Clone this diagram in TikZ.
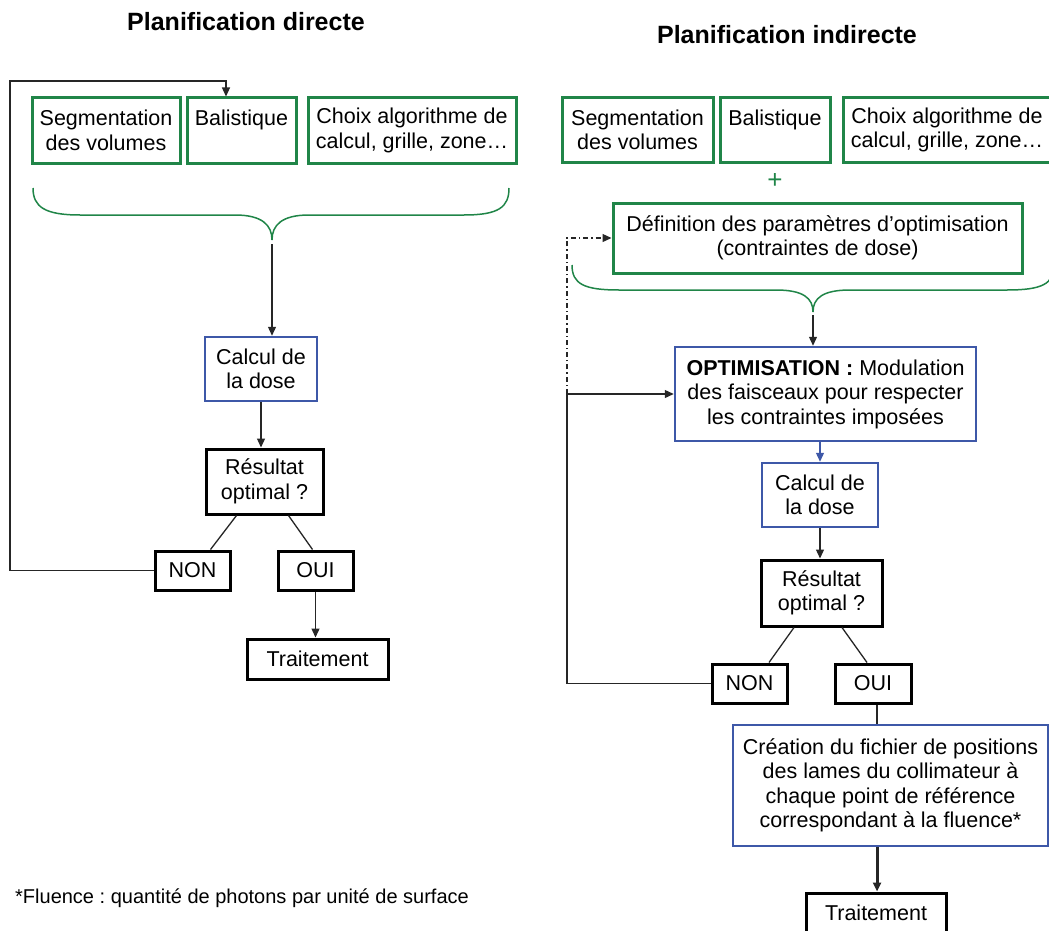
\documentclass[tikz,border=0pt]{standalone}
\usepackage{fontspec}
\setmainfont{Liberation Sans}
\usetikzlibrary{arrows.meta}
\definecolor{boxgreen}{RGB}{32,133,72}
\definecolor{boxblue}{RGB}{62,88,168}
\frenchspacing
\begin{document}
\begin{tikzpicture}[x=1pt,y=1pt,
	every node/.style={font=\fontsize{21.5}{24.5}\selectfont, align=center, inner sep=0pt},
	greenbox/.style={draw=boxgreen, line width=3pt, minimum height=65pt},
	bluebox/.style={draw=boxblue, line width=2.5pt},
	blackbox/.style={draw=black, line width=3pt},
	link/.style={draw=black!85, line width=1.3pt},
	arr/.style={link, -{Triangle[length=9pt,width=8pt]}},
	brace/.style={draw=boxgreen, line width=1.5pt},
	title/.style={font=\fontsize{25}{28}\selectfont\bfseries}]
	
	\useasboundingbox (0,0) rectangle (1049,-931);
	\clip (0,0) rectangle (1049,-931);
	
	% planification directe
	\node[title] (t1) at (246,-22) {Planification directe};
	\node[greenbox, minimum width=148pt] (seg1) at (106,-130.5) {Segmentation\\des volumes};
	\node[greenbox, minimum width=109pt] (bal1) at (241.5,-130.5) {Balistique\\\phantom{d}};
	\node[greenbox, minimum width=208pt] (cho1) at (412,-130.5) {Choix algorithme de\\calcul, grille, zone\ldots};
	\draw[brace] (33,-188) .. controls (33,-207) and (45,-215) .. (80,-215) -- (235,-215)
		.. controls (262,-215) and (272,-225) .. (272,-240)
		.. controls (272,-225) and (282,-215) .. (309,-215) -- (464,-215)
		.. controls (499,-215) and (509,-207) .. (509,-188);
	\coordinate (tip1) at (272,-244);
	\node[bluebox, minimum width=112pt, minimum height=64pt] (calc1) at (261,-369) {Calcul de\\la dose};
	\node[blackbox, minimum width=117pt, minimum height=65pt] (res1) at (264.5,-481.5) {Résultat\\optimal ?};
	\node[blackbox, minimum width=75pt, minimum height=39pt] (non1) at (192.5,-570.5) {NON};
	\node[blackbox, minimum width=75pt, minimum height=39pt] (oui1) at (315.5,-570.5) {OUI};
	\node[blackbox, minimum width=141pt, minimum height=40pt] (trait1) at (317.5,-659) {Traitement};
	
	\draw[arr] (tip1) -- (tip1 |- calc1.north);
	\draw[arr] (calc1.south) -- (calc1.south |- res1.north);
	\draw[link] ([xshift=-28pt]res1.south) -- ([xshift=18pt]non1.north);
	\draw[link] ([xshift=24pt]res1.south) -- ([xshift=-3pt]oui1.north);
	\draw[arr] (oui1.south) -- (oui1.south |- trait1.north);
	\coordinate (back1) at (10,-81);
	\draw[arr] (non1.west) -| (back1) -| ([xshift=-15.5pt]bal1.north);
	
	% planification indirecte
	\node[title] (t2) at (787,-35) {Planification indirecte};
	\node[greenbox, minimum width=151pt] (seg2) at (637.5,-130) {Segmentation\\des volumes};
	\node[greenbox, minimum width=110pt] (bal2) at (775,-130) {Balistique\\\phantom{d}};
	\node[greenbox, minimum width=208pt] (cho2) at (947,-130) {Choix algorithme de\\calcul, grille, zone\ldots};
	\node[text=boxgreen, font=\fontsize{26}{28}\selectfont] (plus) at (775,-181) {+};
	\node[greenbox, minimum width=409pt, minimum height=70pt] (def2) at (817.5,-238) {Définition des paramètres d’optimisation\\(contraintes de dose)};
	\draw[brace] (572,-265) .. controls (572,-284) and (584,-290) .. (619,-290) -- (776,-290)
		.. controls (803,-290) and (813,-298) .. (813,-312)
		.. controls (813,-298) and (823,-290) .. (850,-290) -- (1007,-290)
		.. controls (1042,-290) and (1054,-284) .. (1054,-265);
	\coordinate (tip2) at (813,-315);
	\node[bluebox, minimum width=301pt, minimum height=94pt] (opt2) at (825.5,-394) {\textbf{OPTIMISATION :} Modulation\\des faisceaux pour respecter\\les contraintes imposées};
	\node[bluebox, minimum width=116pt, minimum height=64pt] (calc2) at (820,-495) {Calcul de\\la dose};
	\node[blackbox, minimum width=121pt, minimum height=66pt] (res2) at (821.5,-593) {Résultat\\optimal ?};
	\node[blackbox, minimum width=75pt, minimum height=39pt] (non2) at (749.5,-683.5) {NON};
	\node[blackbox, minimum width=76pt, minimum height=39pt] (oui2) at (873,-683.5) {OUI};
	\node[bluebox, minimum width=315pt, minimum height=121pt] (cre2) at (890.5,-785.5) {Création du fichier de positions\\des lames du collimateur à\\chaque point de référence\\correspondant à la fluence*};
	\node[blackbox, minimum width=140pt, minimum height=40pt] (trait2) at (876,-913) {Traitement};
	
	\draw[arr] (tip2) -- (tip2 |- opt2.north);
	\draw[arr, draw=boxblue] (calc2.north |- opt2.south) -- (calc2.north);
	\draw[arr] (calc2.south) -- (calc2.south |- res2.north);
	\draw[link] ([xshift=-27.5pt]res2.south) -- ([xshift=19.5pt]non2.north);
	\draw[link] ([xshift=20.5pt]res2.south) -- ([xshift=-6pt]oui2.north);
	\coordinate (o2) at ([xshift=4pt]oui2.south);
	\draw[link] (o2) -- (o2 |- cre2.north);
	\draw[arr, line width=3pt] (o2 |- cre2.south) -- (o2 |- trait2.north);
	\coordinate (j2) at (567,-394);
	\draw[arr] (non2.west) -| (j2) -- (opt2.west);
	\draw[arr, dash pattern=on 5pt off 3pt on 1.3pt off 3pt] (j2) |- (def2.west);
	
	\node[anchor=west, font=\fontsize{20}{22}\selectfont] (note) at (15,-898) {*Fluence : quantité de photons par unité de surface};
	
\end{tikzpicture}
\end{document}
